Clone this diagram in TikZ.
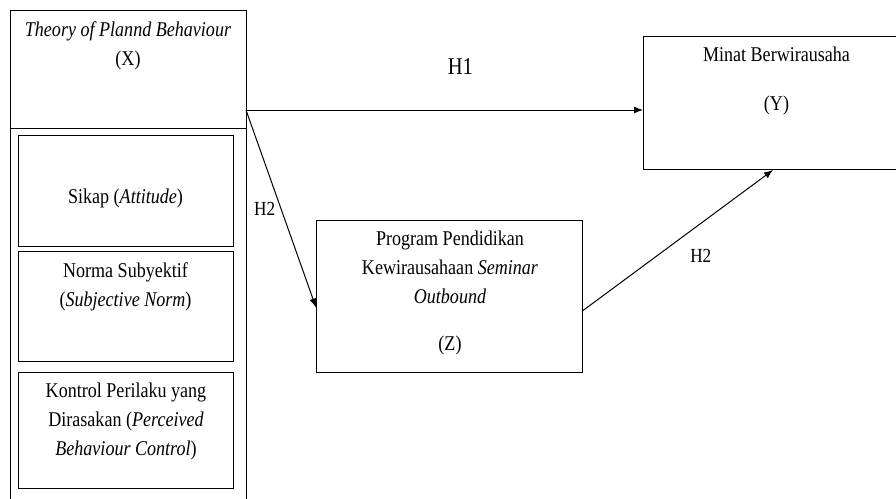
\documentclass[tikz,border=0pt]{standalone}
\usepackage{fontspec}
\setmainfont{Liberation Serif}[FakeStretch=0.86]
\usetikzlibrary{positioning,arrows.meta}
\begin{document}
\begin{tikzpicture}[>={Latex[length=9pt,width=7pt]}, x=1pt, y=-1pt, line width=1pt,
    box/.style={draw, inner sep=0pt, anchor=north west},
    txt/.style={align=center, font=\fontsize{21}{29}\selectfont},
    hyp/.style={font=\fontsize{#1}{#1}\selectfont}]
\useasboundingbox (0,0) rectangle (896,498);
% variabel X dan dimensinya
\node[box, minimum width=236pt, minimum height=118pt] (xhead) at (10,10) {};
\node[box, minimum width=236pt, minimum height=400pt] (xbody) at (10,128) {};
\node[box, minimum width=215pt, minimum height=111pt] (sikap) at (18,135) {};
\node[box, minimum width=215pt, minimum height=110pt] (norma) at (18,251) {};
\node[box, minimum width=215pt, minimum height=116pt] (kontrol) at (18,372) {};
\node[txt] (xtext) at (128,46) {\textit{Theory of Plannd Behaviour}\\(X)};
\node[txt] (sikaptext) at (125.5,198) {Sikap (\textit{Attitude})};
\node[txt] (normatext) at (125.5,287) {Norma Subyektif\\(\textit{Subjective Norm})};
\node[txt] (kontroltext) at (126,421.5) {Kontrol Perilaku yang\\Dirasakan (\textit{Perceived}\\\textit{Behaviour Control})};
% variabel Y dan Z
\node[box, minimum width=267pt, minimum height=133pt] (minat) at (643,36) {};
\node[txt] (minattext) at (776.5,81) {Minat Berwirausaha\\[20pt](Y)};
\node[box, minimum width=266pt, minimum height=152pt] (program) at (316,220) {};
\node[txt] (programtext) at (450,293) {Program Pendidikan\\Kewirausahaan \textit{Seminar}\\\textit{Outbound}\\[18pt](Z)};
% hipotesis
\coordinate (xout) at (246,110);
\draw[->] (xout) -- node[hyp=24, pos=.54, above=32pt] (h1) {H1} (xout -| minat.west);
\draw[->] (xout) -- node[hyp=20, pos=.5, left=2pt] (h2a) {H2} ([yshift=-11pt]program.west);
\draw[->] ([yshift=-14pt]program.east) -- node[hyp=20, pos=.62, below=22pt] (h2b) {H2} ([xshift=-4pt]minat.south);
\end{tikzpicture}
\end{document}
